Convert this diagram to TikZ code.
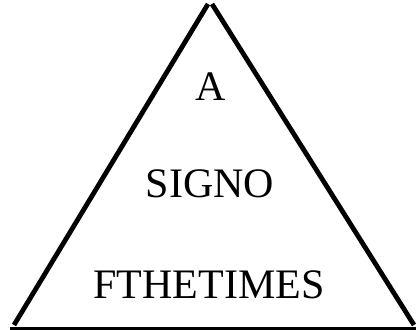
\documentclass[tikz,border=0pt]{standalone}
\usepackage{fontspec}
\setmainfont{Liberation Serif}
\begin{document}
\begin{tikzpicture}[x=1pt,y=-1pt,
  edge/.style={line width=4.8pt,line cap=butt},
  label/.style={anchor=base,inner sep=0pt,font=\fontsize{42}{50}\selectfont}]
\useasboundingbox (0,0) rectangle (416,330);
\coordinate (apexL) at (208,4);
\coordinate (apexR) at (212,4);
\coordinate (footL) at (14,325);
\coordinate (footR) at (414,325);
\coordinate (baseL) at (10,328);
\coordinate (baseR) at (416,328);
\draw[edge] (footL) -- (apexL);
\draw[edge] (apexR) -- (footR);
\draw[line width=3pt] (baseL) -- (baseR);
\node[label] (a) at (211,100) {A};
\node[label] (signo) at (210,197) {SIGNO};
\node[label] (times) at (209,298) {FTHETIMES};
\end{tikzpicture}
\end{document}
